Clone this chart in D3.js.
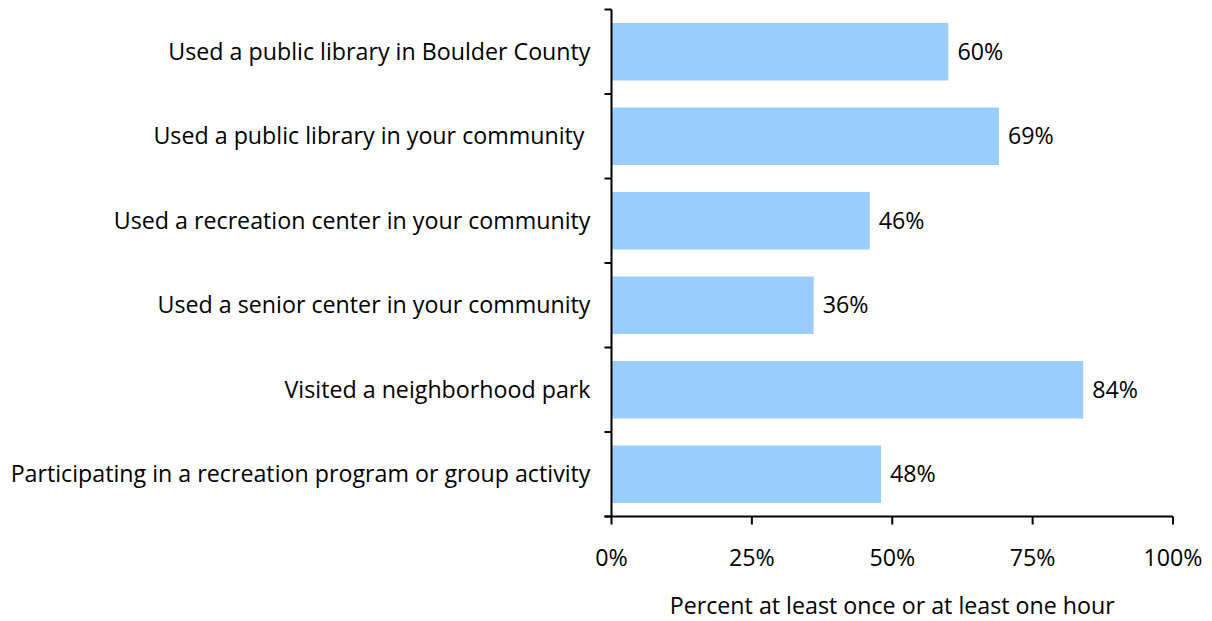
<!DOCTYPE html>
<html><head><meta charset="utf-8">
<script src="https://cdn.jsdelivr.net/npm/d3@7"></script>
<style>body{margin:0;background:#fff}svg{display:block} text{font-family:"Open Sans",sans-serif;fill:#000}</style>
</head><body><svg id="c" width="1212" height="621"></svg>
<script>
const categories = [
  "Used a public library in Boulder County",
  "Used a public library in your community ",
  "Used a recreation center in your community",
  "Used a senior center in your community",
  "Visited a neighborhood park",
  "Participating in a recreation program or group activity"
];
const values = [60, 69, 46, 36, 84, 48];
const tickValues = [0, 25, 50, 75, 100];
const axisTitle = "Percent at least once or at least one hour";

(function(){
const svg = d3.select("#c");
const pL = 611.5, pR = 1173, pT = 9.5, pB = 516.5;
const x = d3.scaleLinear().domain([0,100]).range([pL,pR]);
const y = d3.scaleBand().domain(categories).range([pT,pB]).paddingInner(0.32).paddingOuter(0.16);

// fit font size so the longest category label spans ~580px
const probe = svg.append("text").style("font-size","20px").text(categories[5]);
const w20 = probe.node().getComputedTextLength();
probe.remove();
const fs = Math.min(24, 20 * 580 / w20);

svg.selectAll("rect.bar").data(values).join("rect")
  .attr("class","bar")
  .attr("x", x(0)).attr("y",(d,i)=>y(categories[i]))
  .attr("width", d=>x(d)-x(0)).attr("height", y.bandwidth())
  .attr("fill","#99CCFF");

svg.selectAll("text.val").data(values).join("text")
  .attr("class","val")
  .attr("x", d=>x(d)+9).attr("y",(d,i)=>y(categories[i])+y.bandwidth()/2)
  .attr("dy","0.35em").style("font-size",fs+"px")
  .text(d=>d+"%");

const step = (pB-pT)/categories.length;
const g = svg.append("g").attr("stroke","#000").attr("stroke-width",2);
g.append("line").attr("x1",pL).attr("x2",pL).attr("y1",pT).attr("y2",pB);
d3.range(categories.length+1).forEach(i=>{
  g.append("line").attr("x1",pL-7).attr("x2",pL).attr("y1",pT+i*step).attr("y2",pT+i*step);
});
g.append("line").attr("x1",pL-7).attr("x2",pR).attr("y1",pB).attr("y2",pB);
tickValues.forEach(t=>{
  g.append("line").attr("x1",x(t)).attr("x2",x(t)).attr("y1",pB).attr("y2",pB+8);
});

svg.selectAll("text.tick").data(tickValues).join("text")
  .attr("class","tick").attr("x",d=>x(d)).attr("y",566)
  .attr("text-anchor","middle").style("font-size",fs+"px")
  .text(d=>d+"%");

svg.selectAll("text.cat").data(categories).join("text")
  .attr("class","cat").attr("x",pL-21)
  .attr("y",d=>y(d)+y.bandwidth()/2).attr("dy","0.35em")
  .attr("text-anchor","end").style("font-size",fs+"px").style("white-space","pre")
  .text(d=>d);

svg.append("text").attr("x",(pL+pR)/2).attr("y",614)
  .attr("text-anchor","middle").style("font-size",fs+"px").text(axisTitle);
})();
</script></body></html>
